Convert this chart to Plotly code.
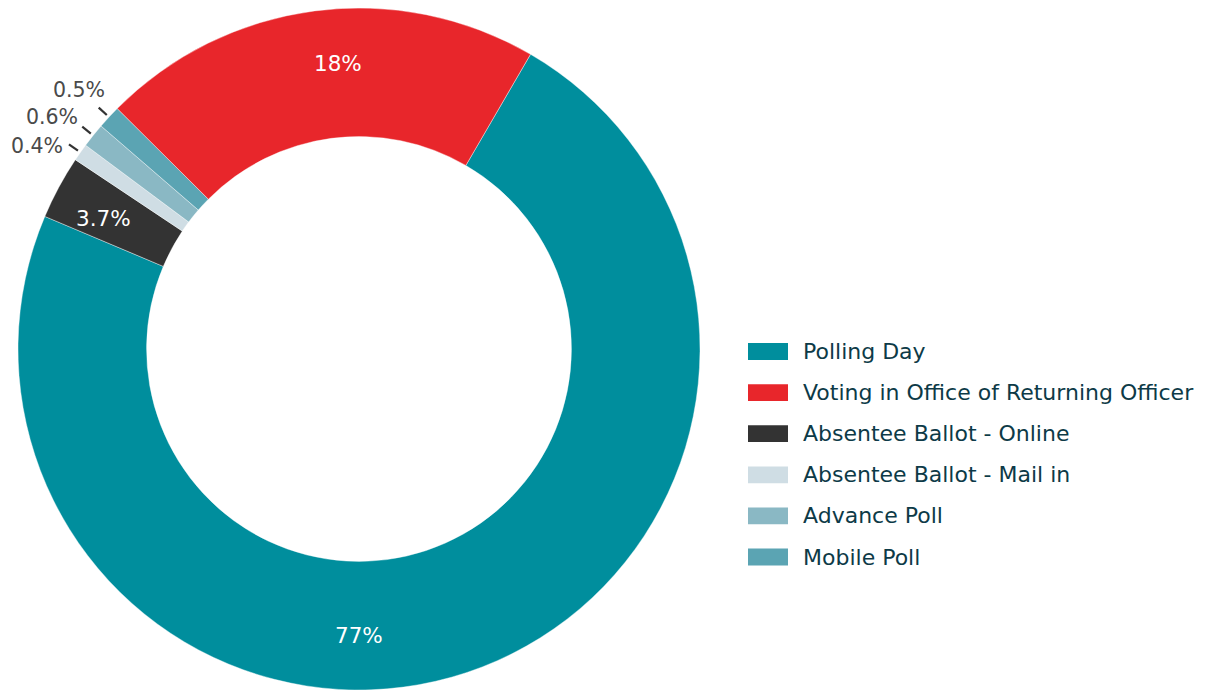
import math
import plotly.graph_objects as go

# ---- data (slice order = clockwise drawing order) ----
categories = ["Polling Day", "Absentee Ballot - Online", "Absentee Ballot - Mail in",
              "Advance Poll", "Mobile Poll", "Voting in Office of Returning Officer"]
slice_share = [72.96, 3.01, 0.83, 1.15, 1.11, 20.93]          # angular share as drawn
label_text = ["77%", "3.7%", "0.4%", "0.6%", "0.5%", "18%"]    # printed labels
legend_order = ["Polling Day", "Voting in Office of Returning Officer",
                "Absentee Ballot - Online", "Absentee Ballot - Mail in",
                "Advance Poll", "Mobile Poll"]

# ---- style ----
colors = {
    "Polling Day": "#008E9D",
    "Voting in Office of Returning Officer": "#E8262B",
    "Absentee Ballot - Online": "#333333",
    "Absentee Ballot - Mail in": "#CFDDE4",
    "Advance Poll": "#8AB8C4",
    "Mobile Poll": "#5BA4B3",
}
label_inside = [True, True, False, False, False, True]
label_angle_nudge = [18.5, -1.3, 0, 0, 0, 3.2]     # degrees
label_text_offset = [None, None, (-3.5, 1.6), (-2.5, -10.0), (8.0, -17.5), None]
FONT = "DejaVu Sans"
W, H = 1205, 691
PAGE_OFF = 8          # browser body margin
CX, CY, R = 359, 349, 341
HOLE = 0.623
ROT = 30.2

def paper(px, py):
    return (px - PAGE_OFF) / W, 1 - (py - PAGE_OFF) / H

def polar(angle_deg, r):
    a = math.radians(angle_deg)
    return CX + r * math.sin(a), CY - r * math.cos(a)

dx0, dy1 = paper(CX - R, CY - R)
dx1, dy0 = paper(CX + R, CY + R)

fig = go.Figure()
fig.add_trace(go.Pie(
    labels=categories, values=slice_share, sort=False, direction="clockwise",
    rotation=ROT, hole=HOLE, textinfo="none", hoverinfo="label+percent",
    marker=dict(colors=[colors[c] for c in categories], line=dict(color="white", width=0.4)),
    domain=dict(x=[dx0, dx1], y=[dy0, dy1]),
    showlegend=False,
))

annotations = []
shapes = []
total = sum(slice_share)
cum = 0.0
for i, c in enumerate(categories):
    mid = ROT + (cum + slice_share[i] / 2) / total * 360
    cum += slice_share[i]
    if label_inside[i]:
        x, y = polar(mid + label_angle_nudge[i], 0.84 * R)
        px, py = paper(x, y)
        annotations.append(dict(x=px, y=py, xref="paper", yref="paper", text=label_text[i],
                                showarrow=False, xanchor="center", yanchor="middle",
                                font=dict(family=FONT, size=21.5, color="white")))
    else:
        x0, y0 = polar(mid, 344)
        x1, y1 = polar(mid, 355)
        a0, b0 = paper(x0, y0)
        a1, b1 = paper(x1, y1)
        shapes.append(dict(type="line", xref="paper", yref="paper", x0=a0, y0=b0, x1=a1, y1=b1,
                           line=dict(color="#333333", width=2.2)))
        ox, oy = label_text_offset[i]
        tx, ty = paper(x1 + ox, y1 + oy)
        annotations.append(dict(x=tx, y=ty, xref="paper", yref="paper", text=label_text[i],
                                showarrow=False, xanchor="right", yanchor="middle",
                                font=dict(family=FONT, size=20.5, color="#4A4A4A")))

# ---- manual legend (ordered as in the reference) ----
LEG_X0, LEG_X1, LEG_Y0, LEG_DY, SW_H = 748, 788, 351.5, 41.1, 16.8
for k, name in enumerate(legend_order):
    yc = LEG_Y0 + k * LEG_DY
    x0, y0 = paper(LEG_X0, yc + SW_H / 2)
    x1, y1 = paper(LEG_X1, yc - SW_H / 2)
    shapes.append(dict(type="rect", xref="paper", yref="paper", x0=x0, x1=x1, y0=y0, y1=y1,
                       fillcolor=colors[name], line=dict(width=0)))
    tx, ty = paper(801, yc)
    annotations.append(dict(x=tx, y=ty, xref="paper", yref="paper", text=name, showarrow=False,
                            xanchor="left", yanchor="middle",
                            font=dict(family=FONT, size=22, color="#0D3A47")))

fig.update_layout(
    width=W, height=H, margin=dict(l=0, r=0, t=0, b=0),
    paper_bgcolor="white", plot_bgcolor="white",
    annotations=annotations, shapes=shapes, showlegend=False,
    font=dict(family=FONT),
)
fig.write_html("out.html")
